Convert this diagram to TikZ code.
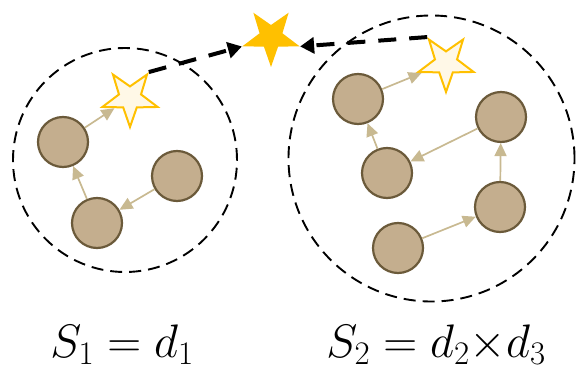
\RequirePackage{fix-cm}
\documentclass[tikz,border=0pt]{standalone}
\usetikzlibrary{shapes.geometric,arrows.meta}
\definecolor{nodefill}{RGB}{196,174,142}
\definecolor{nodeline}{RGB}{107,90,58}
\definecolor{edgecol}{RGB}{200,185,145}
\definecolor{gold}{RGB}{255,192,0}
\definecolor{cream}{RGB}{255,248,231}
\tikzset{
  blob/.style={circle,draw=nodeline,fill=nodefill,line width=2.2pt,minimum size=50pt,inner sep=0pt},
  hollowstar/.style={star,star points=5,star point ratio=2.5,shape border rotate=180,draw=gold,fill=cream,line width=2pt,minimum size=58pt,inner sep=0pt},
  fullstar/.style={star,star points=5,star point ratio=2.5,shape border rotate=180,fill=gold,minimum size=60pt,inner sep=0pt},
  edge/.style={draw=edgecol,line width=1.7pt,-{Triangle[length=13pt,width=12pt]}},
  bigarrow/.style={draw=black,line width=4pt,dash pattern=on 18pt off 13pt,-{Triangle[length=14pt,width=16pt]}},
  region/.style={draw=black,line width=1.9pt,dash pattern=on 12pt off 7pt},
  lab/.style={anchor=base,font=\fontsize{47}{56}\selectfont}
}
\begin{document}
\begin{tikzpicture}[x=1pt,y=-1pt]
\useasboundingbox (0,0) rectangle (577,371);
% regions
\node[region,circle,minimum size=224pt,inner sep=0pt] (R1) at (125,160) {};
\node[region,circle,minimum size=286pt,inner sep=0pt] (R2) at (431.5,158.5) {};
% left cluster
\node[blob] (a) at (63,142) {};
\node[blob] (b) at (97,223) {};
\node[blob] (c) at (177,176) {};
\node[hollowstar] (ls) at (130,98) {};
% right cluster
\node[blob] (d) at (358,99) {};
\node[blob] (e) at (501,117) {};
\node[blob] (f) at (387,173) {};
\node[blob] (g) at (500,207) {};
\node[blob] (h) at (398,248) {};
\node[hollowstar] (rs) at (446,63) {};
% centre star
\node[fullstar] (gs) at (271,37) {};
% edges
\draw[edge] (c) -- (b);
\draw[edge] (b) -- (a);
\draw[edge] (a) -- (ls);
\draw[edge] (h) -- (g);
\draw[edge] (g) -- (e);
\draw[edge] (e) -- (f);
\draw[edge] (f) -- (d);
\draw[edge] (d) -- (rs);
% big dashed arrows
\draw[bigarrow] (ls.54) -- (gs.198);
\draw[bigarrow] (rs.126) -- (gs.342);
% labels
\node[lab] (l1) at (122,357) {$S_1 = d_1$};
\node[lab] (l2) at (436,357) {$S_2 = d_2{\times}d_3$};
\end{tikzpicture}
\end{document}
